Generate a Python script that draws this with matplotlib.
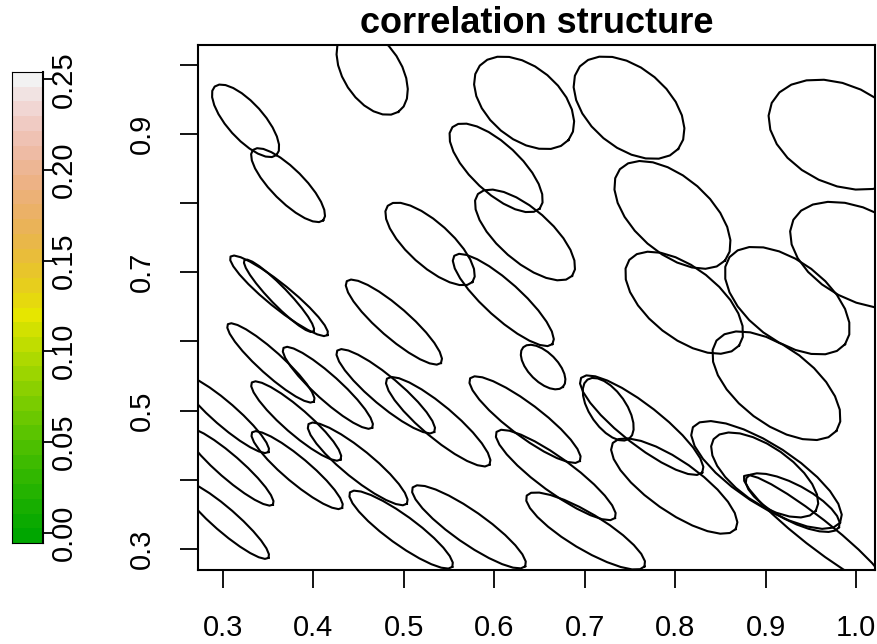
import colorsys
import numpy as np
import matplotlib
matplotlib.use('Agg')
import matplotlib.pyplot as plt
from matplotlib.colors import ListedColormap

# ellipse centres in data units, semi axes in x data units, tilt as seen on screen (deg)
cx = [0.325, 0.372, 0.465, 0.633, 0.749, 0.982, 0.602, 0.797, 1.004, 0.634,
      0.529, 0.810, 0.924, 0.912, 0.362, 0.362, 0.489, 0.610, 0.353, 0.416,
      0.480, 0.654, 0.538, 0.449, 0.497, 0.572, 0.302, 0.307, 0.302, 0.381,
      0.634, 0.668, 0.701, 0.726, 0.763, 0.799, 0.901, 0.899, 0.930, 0.382,
      0.955]
cy = [0.919, 0.826, 0.990, 0.945, 0.938, 0.899, 0.851, 0.783, 0.725, 0.754,
      0.741, 0.656, 0.659, 0.536, 0.666, 0.666, 0.628, 0.660, 0.569, 0.533,
      0.528, 0.563, 0.484, 0.423, 0.328, 0.332, 0.495, 0.419, 0.342, 0.485,
      0.487, 0.407, 0.326, 0.502, 0.479, 0.391, 0.407, 0.407, 0.367, 0.414,
      0.325]
semi_major = [0.051, 0.055, 0.053, 0.064, 0.071, 0.083, 0.066, 0.077, 0.083, 0.069,
              0.063, 0.077, 0.080, 0.083, 0.069, 0.055, 0.069, 0.073, 0.064, 0.066,
              0.070, 0.031, 0.074, 0.070, 0.070, 0.076, 0.064, 0.064, 0.064, 0.065,
              0.076, 0.081, 0.076, 0.040, 0.085, 0.083, 0.097, 0.069, 0.058, 0.065,
              0.100]
semi_minor = [0.020, 0.018, 0.032, 0.040, 0.044, 0.055, 0.027, 0.042, 0.050, 0.029,
              0.024, 0.039, 0.044, 0.042, 0.013, 0.010, 0.017, 0.020, 0.013, 0.014,
              0.016, 0.016, 0.018, 0.016, 0.016, 0.018, 0.013, 0.013, 0.013, 0.014,
              0.018, 0.019, 0.020, 0.020, 0.022, 0.028, 0.033, 0.031, 0.020, 0.014,
              0.016]
tilt = [-48, -45, -57, -40, -40, -25, -43, -41, -28, -41,
        -42, -38, -37, -37, -39, -46, -41, -42, -42, -42,
        -40, -45, -40, -39, -36, -35, -41, -41, -41, -41,
        -37, -36, -31, -55, -38, -35, -33, -35, -28, -40,
        -38]

x_ticks = [0.3, 0.4, 0.5, 0.6, 0.7, 0.8, 0.9, 1.0]
x_labels = ['0.3', '0.4', '0.5', '0.6', '0.7', '0.8', '0.9', '1.0']
y_ticks = [0.3, 0.4, 0.5, 0.6, 0.7, 0.8, 0.9, 1.0]
y_labels = ['0.3', '', '0.5', '', '0.7', '', '0.9', '']
bar_ticks = [0.0, 0.05, 0.10, 0.15, 0.20, 0.25]
bar_labels = ['0.00', '0.05', '0.10', '0.15', '0.20', '0.25']
bar_range = [-0.0058, 0.2541]
n_colors = 32


def terrain_colors(n):
    # same recipe as R's terrain.colors()
    k = n // 2
    cols = []
    for h, s, v in zip(np.linspace(4/12, 2/12, k), np.ones(k), np.linspace(0.65, 0.9, k)):
        cols.append(colorsys.hsv_to_rgb(h, s, v))
    m = n - k + 1
    for h, s, v in zip(np.linspace(2/12, 0, m)[1:], np.linspace(1, 0, m)[1:], np.linspace(0.9, 0.95, m)[1:]):
        cols.append(colorsys.hsv_to_rgb(h, s, v))
    return cols


plt.rcParams['font.family'] = ['Liberation Sans', 'DejaVu Sans']
fig = plt.figure(figsize=(8.78, 6.44), dpi=100)

ax = fig.add_axes([0.2255, 0.1149, 0.7711, 0.8152])
ax.set_xlim(0.2724, 1.021)
ax.set_ylim(0.2696, 1.0286)

# pixels per data unit on each axis, so the ellipses keep their on-screen shape
px_x = ax.bbox.width / (1.021 - 0.2724)
px_y = ax.bbox.height / (1.0286 - 0.2696)
k = px_x / px_y

t = np.linspace(0, 2 * np.pi, 25)
for x0, y0, a, b, ang in zip(cx, cy, semi_major, semi_minor, tilt):
    th = np.deg2rad(ang)
    ux = a * np.cos(t) * np.cos(th) - b * np.sin(t) * np.sin(th)
    uy = a * np.cos(t) * np.sin(th) + b * np.sin(t) * np.cos(th)
    ax.plot(x0 + ux, y0 + uy * k, color='black', lw=1.5)

ax.set_xticks(x_ticks)
ax.set_xticklabels(x_labels)
ax.set_yticks(y_ticks)
ax.set_yticklabels(y_labels, rotation=90, va='center')
ax.tick_params(axis='both', length=13, width=1.3, labelsize=21)
ax.tick_params(axis='x', pad=19)
ax.tick_params(axis='y', pad=17)
for sp in ax.spines.values():
    sp.set_linewidth(1.5)
ax.set_title('correlation structure', fontsize=26, fontweight='bold', pad=8.5)

# colour legend on the left
cax = fig.add_axes([0.0137, 0.1568, 0.0353, 0.7314])
edges = np.linspace(bar_range[0], bar_range[1], n_colors + 1)
cax.pcolormesh([0, 1], edges, np.arange(n_colors).reshape(n_colors, 1),
               cmap=ListedColormap(terrain_colors(n_colors)))
cax.set_xlim(0, 1)
cax.set_ylim(bar_range)
cax.set_xticks([])
cax.yaxis.tick_right()
cax.set_yticks(bar_ticks)
cax.set_yticklabels(bar_labels, rotation=90, va='center')
cax.tick_params(axis='y', length=7, width=1.3, labelsize=21, pad=-2)
for sp in cax.spines.values():
    sp.set_linewidth(0.8)
cax.spines['right'].set_linewidth(1.5)

fig.savefig('out.png', dpi=100)
